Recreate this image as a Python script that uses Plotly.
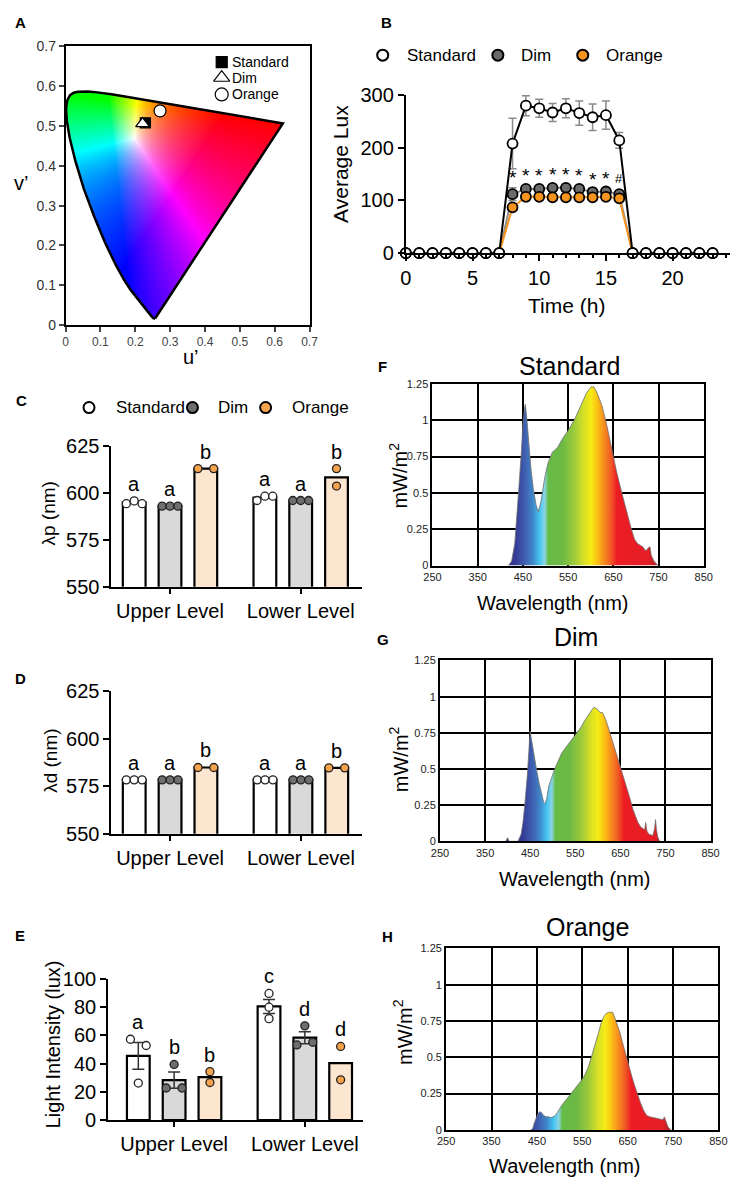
import numpy as np
import zlib, struct, base64
import plotly.graph_objects as go

W, H = 742, 1190
FONT = "Arial, 'Liberation Sans', Helvetica, sans-serif"

# ---------------- DATA ----------------
# Panel A: CIE 1931 spectral locus chromaticities (x, y) and the three light sources (u', v')
locus_nm = [380, 410, 420, 430, 440, 450, 460, 465, 470, 475, 480, 485, 490, 495, 500, 505, 510,
            515, 520, 525, 530, 535, 540, 545, 550, 555, 560, 570, 580, 590, 600, 610, 620, 640, 660, 700]
locus_x = [0.1741, 0.1726, 0.1714, 0.1689, 0.1644, 0.1566, 0.1440, 0.1355, 0.1241, 0.1096, 0.0913,
           0.0687, 0.0454, 0.0235, 0.0082, 0.0039, 0.0139, 0.0389, 0.0743, 0.1142, 0.1547, 0.1929,
           0.2296, 0.2658, 0.3016, 0.3373, 0.3731, 0.4441, 0.5125, 0.5752, 0.6270, 0.6658, 0.6915,
           0.7190, 0.7300, 0.7347]
locus_y = [0.0050, 0.0048, 0.0051, 0.0069, 0.0109, 0.0177, 0.0297, 0.0399, 0.0578, 0.0868, 0.1327,
           0.2007, 0.2950, 0.4127, 0.5384, 0.6548, 0.7502, 0.8120, 0.8338, 0.8262, 0.8059, 0.7816,
           0.7543, 0.7243, 0.6923, 0.6589, 0.6245, 0.5547, 0.4866, 0.4242, 0.3725, 0.3340, 0.3083,
           0.2809, 0.2700, 0.2653]
src_names = ["Standard", "Dim", "Orange"]
src_u = [0.229, 0.221, 0.271]
src_v = [0.508, 0.506, 0.538]

# Panel B: hourly average lux
hours = list(range(24))
std_lux = [0] * 8 + [208, 280, 275, 267, 275, 266, 258, 262, 214] + [0] * 7
std_err = [0] * 8 + [48, 19, 17, 17, 18, 23, 25, 27, 15] + [0] * 7
dim_lux = [0] * 8 + [112, 122, 122, 124, 124, 122, 116, 117, 112] + [0] * 7
dim_err = [0] * 8 + [12, 5, 5, 5, 5, 5, 4, 4, 4] + [0] * 7
org_lux = [0] * 8 + [87, 107, 107, 106, 106, 106, 106, 107, 104] + [0] * 7
org_err = [0] * 8 + [4, 3, 3, 3, 3, 3, 3, 3, 3] + [0] * 7
sig_hours = [8, 9, 10, 11, 12, 13, 14, 15, 16]
sig_marks = ["*", "*", "*", "*", "*", "*", "*", "*", "#"]

levels = ["Upper Level", "Lower Level"]
groups = ["Standard", "Dim", "Orange"]

# Panel C: peak wavelength (nm)
c_bar = {"Standard": [595.0, 597.5], "Dim": [593.0, 596.0], "Orange": [613.0, 608.3]}
c_pts = {"Standard": [[594.3, 595.8, 594.3], [596.0, 598.3, 598.3]],
         "Dim": [[593.0, 593.0, 593.0], [596.0, 596.0, 596.0]],
         "Orange": [[613.0, 613.0], [613.0, 603.7]]}
c_letters = {"Standard": ["a", "a"], "Dim": ["a", "a"], "Orange": ["b", "b"]}

# Panel D: dominant wavelength (nm)
d_bar = {"Standard": [578.3, 578.3], "Dim": [578.3, 578.3], "Orange": [584.8, 584.6]}
d_pts = {"Standard": [[578.3, 578.3, 578.3], [578.3, 578.3, 578.3]],
         "Dim": [[578.3, 578.3, 578.3], [578.3, 578.3, 578.3]],
         "Orange": [[584.8, 584.8], [584.6, 584.6]]}
d_letters = {"Standard": ["a", "a"], "Dim": ["a", "a"], "Orange": ["b", "b"]}

# Panel E: light intensity (lux)
e_bar = {"Standard": [45.4, 80.4], "Dim": [28.3, 58.3], "Orange": [30.4, 40.3]}
e_err = {"Standard": [9.5, 5.0], "Dim": [5.8, 4.2], "Orange": [0, 0]}
e_pts = {"Standard": [[57.2, 26.2, 52.8], [89.6, 79.9, 71.8]],
         "Dim": [[22.7, 39.4, 22.7], [53.2, 66.7, 55.1]],
         "Orange": [[34.3, 26.6], [52.1, 28.5]]}
e_letters = {"Standard": ["a", "c"], "Dim": ["b", "d"], "Orange": ["b", "d"]}

# Panels F-H: spectra (wavelength nm, mW/m2)
spec_std_nm = [418, 425, 432, 437, 441, 447, 450, 454, 455.5, 459, 463, 468, 473, 479, 484, 490, 498,
               505, 515, 526, 537, 550, 565, 580, 591, 601, 607, 614, 625, 636, 646, 657, 668, 679,
               690, 697, 704, 715, 722, 727, 731, 734, 740, 749]
spec_std_val = [0, 0.03, 0.15, 0.33, 0.53, 0.80, 0.98, 1.09, 1.11, 1.00, 0.82, 0.66, 0.53, 0.42, 0.37,
                0.44, 0.60, 0.70, 0.78, 0.81, 0.87, 0.93, 1.01, 1.11, 1.19, 1.23, 1.23, 1.19, 1.10,
                0.96, 0.81, 0.65, 0.51, 0.37, 0.25, 0.18, 0.15, 0.13, 0.10, 0.12, 0.13, 0.07, 0.03, 0]
spec_dim_nm = [396, 400, 403, 423, 430, 434, 438, 441, 444, 447, 450, 452, 455, 459, 465, 470, 475, 480,
               483, 487, 491, 496, 502, 507, 513, 520, 527, 534, 541, 548, 556, 563, 570, 578, 585,
               591, 596, 600, 605, 610, 615, 621, 628, 636, 643, 650, 657, 664, 671, 678, 684, 689,
               695, 700, 704, 706, 709, 713, 717, 722, 726, 728, 730, 733, 737]
spec_dim_val = [0, 0.025, 0, 0, 0.05, 0.13, 0.25, 0.35, 0.47, 0.62, 0.76, 0.72, 0.66, 0.58, 0.48, 0.40,
                0.33, 0.27, 0.26, 0.30, 0.38, 0.43, 0.48, 0.52, 0.56, 0.61, 0.64, 0.67, 0.70, 0.73,
                0.76, 0.79, 0.83, 0.87, 0.90, 0.925, 0.92, 0.91, 0.89, 0.89, 0.86, 0.81, 0.74, 0.65,
                0.58, 0.51, 0.45, 0.38, 0.30, 0.22, 0.17, 0.13, 0.10, 0.09, 0.08, 0.13, 0.07, 0.05,
                0.045, 0.04, 0.09, 0.15, 0.08, 0.03, 0]
spec_org_nm = [437, 441, 444, 448, 452, 456, 460, 465, 470, 476, 481, 486, 491, 495, 500, 505, 510, 515,
               520, 527, 534, 541, 548, 556, 563, 570, 576, 581, 586, 591, 596, 602, 608, 613, 617,
               622, 628, 633, 638, 643, 649, 654, 660, 666, 671, 678, 685, 692, 699, 706, 714, 721,
               728, 731, 734, 739, 745]
spec_org_val = [0, 0.01, 0.045, 0.08, 0.11, 0.125, 0.12, 0.10, 0.09, 0.09, 0.085, 0.09, 0.10, 0.12,
                0.15, 0.17, 0.19, 0.21, 0.23, 0.25, 0.28, 0.31, 0.34, 0.38, 0.43, 0.50, 0.56, 0.61,
                0.67, 0.73, 0.77, 0.80, 0.81, 0.81, 0.81, 0.77, 0.72, 0.67, 0.61, 0.55, 0.48, 0.42,
                0.36, 0.30, 0.25, 0.19, 0.135, 0.10, 0.09, 0.085, 0.08, 0.07, 0.07, 0.09, 0.06, 0.02, 0]

# spectral colour ramp (nm -> colour)
ramp_nm = [400, 430, 450, 466, 481, 492, 500, 530, 555, 575, 592, 605, 618, 635, 648, 715, 735, 760]
ramp_col = ['#2e2d75', '#353c98', '#4060b0', '#3f86c8', '#43c4f0', '#8ad4e6', '#66bb46', '#6cb944',
            '#9bc93c', '#d4df27', '#f6eb16', '#fbc314', '#f7941d', '#f05a24', '#ed1c24', '#e41e25',
            '#b01f24', '#7a1a1a']

# ---------------- STYLE CONSTANTS ----------------
BAR_FILL = {"Standard": "white", "Dim": "#d9d9d9", "Orange": "#fde6d0"}
DOT_FILL = {"Standard": "white", "Dim": "#6e6e6e", "Orange": "#f6a34e"}
LINE_COL = {"Standard": "black", "Dim": "#8c8c8c", "Orange": "#f7941d"}
MK_FILL = {"Standard": "white", "Dim": "#6b6b6b", "Orange": "#f7941d"}
GROUP_STEP = 3.65
BAR_W = 0.635
JIT = 0.22
jitter3 = [-JIT, 0, JIT]
jitter_c = {"Standard": [jitter3, jitter3], "Dim": [jitter3, jitter3], "Orange": [[-JIT, JIT], [0, 0]]}
jitter_d = {"Standard": [jitter3, jitter3], "Dim": [jitter3, jitter3], "Orange": [[-JIT, JIT], [-JIT, JIT]]}
jitter_e = {"Standard": [jitter3, [0, 0, 0]], "Dim": [jitter3, jitter3], "Orange": [[0, 0], [0, 0]]}


def xdom(a, b):
    return [a / W, b / W]


def ydom(top, bottom):
    return [1 - bottom / H, 1 - top / H]


fig = go.Figure()
annotations = []


def ann(text, x, y, size, bold=False, angle=0, xanchor='center', yanchor='middle', color='black'):
    annotations.append(dict(text=("<b>%s</b>" % text) if bold else text, x=x / W, y=1 - y / H,
                            xref='paper', yref='paper', showarrow=False, textangle=angle,
                            xanchor=xanchor, yanchor=yanchor,
                            font=dict(size=size, color=color, family=FONT)))


# ---------------- PANEL A ----------------
lx = np.array(locus_x)
ly = np.array(locus_y)
den = -2 * lx + 12 * ly + 3
loc_u = 4 * lx / den
loc_v = 9 * ly / den

N = 350
cells = (np.arange(N) + 0.5) * 0.7 / N
U, V = np.meshgrid(cells, cells)
d2 = 6 * U - 16 * V + 12
cx = 9 * U / d2
cy = np.maximum(4 * V / d2, 1e-6)
X = cx / cy
Z = (1 - cx - cy) / cy
R = 3.2406 * X - 1.5372 - 0.4986 * Z
G = -0.9689 * X + 1.8758 + 0.0415 * Z
B = 0.0557 * X - 0.2040 + 1.0570 * Z
rgb = np.clip(np.stack([R, G, B], -1), 0, None)
rgb = rgb / (rgb.max(-1, keepdims=True) + 1e-9)
rgb = rgb ** (1 / 1.3)
inside = np.zeros(U.shape, bool)
pu, pv = list(loc_u), list(loc_v)
n = len(pu)
j = n - 1
for i in range(n):
    cond = ((pv[i] > V) != (pv[j] > V)) & (U < (pu[j] - pu[i]) * (V - pv[i]) / (pv[j] - pv[i] + 1e-12) + pu[i])
    inside ^= cond
    j = i
rgba = np.zeros((N, N, 4), np.uint8)
rgba[..., :3] = (rgb * 255).astype(np.uint8)
rgba[..., 3] = np.where(inside, 255, 0)
img = rgba[::-1]
raw = b''.join(b'\x00' + img[r].tobytes() for r in range(N))


def chunk(t, d):
    return struct.pack('>I', len(d)) + t + d + struct.pack('>I', zlib.crc32(t + d) & 0xffffffff)


png = (b'\x89PNG\r\n\x1a\n' + chunk(b'IHDR', struct.pack('>IIBBBBB', N, N, 8, 6, 0, 0, 0)) +
       chunk(b'IDAT', zlib.compress(raw, 9)) + chunk(b'IEND', b''))
img_uri = 'data:image/png;base64,' + base64.b64encode(png).decode()

fig.add_trace(go.Scatter(x=list(loc_u) + [loc_u[0]], y=list(loc_v) + [loc_v[0]], mode='lines',
                         line=dict(color='black', width=2.5), xaxis='x', yaxis='y', hoverinfo='skip'))
a_sym = {"Standard": ("square", "black", 10), "Dim": ("triangle-up", "white", 12),
         "Orange": ("circle", "white", 12)}
for k, nm in enumerate(src_names):
    s, c, sz = a_sym[nm]
    fig.add_trace(go.Scatter(x=[src_u[k]], y=[src_v[k]], mode='markers', xaxis='x', yaxis='y',
                             marker=dict(symbol=s, color=c, size=sz, line=dict(color='black', width=1.3))))

# ---------------- PANEL B ----------------
b_series = [("Dim", dim_lux, dim_err), ("Orange", org_lux, org_err), ("Standard", std_lux, std_err)]
for nm, vals, errs in b_series:
    fig.add_trace(go.Scatter(
        x=hours, y=vals, mode='lines+markers', xaxis='x2', yaxis='y2', cliponaxis=False,
        line=dict(color=LINE_COL[nm], width=2),
        marker=dict(size=10, color=MK_FILL[nm], line=dict(color='black', width=1.8)),
        error_y=dict(type='data', array=errs, color='#8a8a8a', thickness=1.5, width=4)))
for h, m in zip(sig_hours, sig_marks):
    annotations.append(dict(text=m, x=h, y=dim_lux[h] + dim_err[h], xref='x2', yref='y2', showarrow=False,
                            yshift=-2 if m == "*" else 4, yanchor='bottom',
                            font=dict(size=19 if m == "*" else 13, family=FONT, color='black')))


# ---------------- PANELS C, D, E ----------------
def bar_panel(xa, ya, bars, pts, jit, letters, errs=None):
    for gi, g in enumerate(groups):
        xs = [li * GROUP_STEP + gi for li in range(2)]
        eb = dict(type='data', array=errs[g], color='#333', thickness=1.5, width=6,
                  visible=True) if errs is not None and any(errs[g]) else None
        fig.add_trace(go.Bar(x=xs, y=bars[g], width=BAR_W, xaxis=xa, yaxis=ya,
                             marker=dict(color=BAR_FILL[g], line=dict(color='black', width=2.2)),
                             error_y=eb))
        for li in range(2):
            p = pts[g][li]
            fig.add_trace(go.Scatter(x=[xs[li] + o for o in jit[g][li]], y=p, mode='markers',
                                     xaxis=xa, yaxis=ya, cliponaxis=False,
                                     marker=dict(size=8, color=DOT_FILL[g],
                                                 line=dict(color='#222', width=1.3))))
            top = max(p + [bars[g][li] + (errs[g][li] if errs is not None else 0)])
            annotations.append(dict(text=letters[g][li], x=xs[li], y=top, xref=xa, yref=ya,
                                    showarrow=False, yshift=17, yanchor='middle',
                                    font=dict(size=20, family=FONT, color='black')))


bar_panel('x3', 'y3', c_bar, c_pts, jitter_c, c_letters)
bar_panel('x4', 'y4', d_bar, d_pts, jitter_d, d_letters)
bar_panel('x5', 'y5', e_bar, e_pts, jitter_e, e_letters, e_err)

# ---------------- PANELS F, G, H ----------------
cscale = [[(nm - ramp_nm[0]) / (ramp_nm[-1] - ramp_nm[0]), c] for nm, c in zip(ramp_nm, ramp_col)]
for xa, ya, xs, ys in [('x6', 'y6', spec_std_nm, spec_std_val), ('x7', 'y7', spec_dim_nm, spec_dim_val),
                       ('x8', 'y8', spec_org_nm, spec_org_val)]:
    fig.add_trace(go.Scatter(x=xs, y=ys, mode='lines', fill='tozeroy', xaxis=xa, yaxis=ya,
                             line=dict(color='#707070', width=0.8),
                             fillgradient=dict(type='horizontal', colorscale=cscale,
                                               start=ramp_nm[0], stop=ramp_nm[-1])))

# ---------------- OVERLAY (legend symbols) ----------------
leg_pts = [  # (x, y, symbol, fill, size)
    (218, 52, "square", "black", 11), (218, 68, "triangle-up-open", "black", 14), (218, 85, "circle-open", "black", 13),
]
for x, y, s, c, sz in leg_pts:
    fig.add_trace(go.Scatter(x=[x], y=[y], mode='markers', xaxis='x9', yaxis='y9',
                             marker=dict(symbol=s, color=c, size=sz, line=dict(color='black', width=1.2))))
for (lx0, ly0), nm in zip([(383, 45), (501, 45), (588, 45)], groups):
    fig.add_trace(go.Scatter(x=[lx0], y=[ly0], mode='markers', xaxis='x9', yaxis='y9',
                             marker=dict(size=11, color=MK_FILL[nm], line=dict(color='black', width=2))))
for (lx0, ly0), nm in zip([(82, 404), (188, 404), (263, 404)], groups):
    fig.add_trace(go.Scatter(x=[lx0], y=[ly0], mode='markers', xaxis='x9', yaxis='y9',
                             marker=dict(size=11, color=DOT_FILL[nm],
                                         line=dict(color='black', width=2))))

# ---------------- TEXT ----------------
for t, x, y in [("A", 12, 12), ("B", 387, 12), ("C", 13, 397), ("D", 12, 680), ("E", 11, 942),
                ("F", 383, 362), ("G", 383, 640), ("H", 388, 943)]:
    ann(t, x, y, 15, bold=True)
for t, y in zip(src_names, [52, 68, 85]):
    ann(t, 227, y, 14, xanchor='left')
for t, x in zip(groups, [406, 523, 610]):
    ann(t, x, 45, 17, xanchor='left')
for t, x in zip(groups, [108, 212, 288]):
    ann(t, x, 404, 17, xanchor='left')
ann("v’", 12, 175, 20)
ann("u’", 187, 353, 20)
ann("Average Lux", 339, 156, 21, angle=-90)
ann("Time (h)", 571, 300, 21)
ann("λp (nm)", 41, 512, 19, angle=-90)
ann("λd (nm)", 43, 764, 19, angle=-90)
ann("Light Intensity (lux)", 45, 1053, 20, angle=-90)
for t, x, y in [("Standard", 574, 362), ("Dim", 581, 638), ("Orange", 593, 933)]:
    ann(t, x, y, 25)
for x, y in [(399, 473), (400, 762), (404, 1040)]:
    ann("mW/m<sup>2</sup>", x, y, 20, angle=-90)
for x, y in [(558, 603), (580, 884), (570, 1177)]:
    ann("Wavelength (nm)", x, y, 20)

# ---------------- AXES ----------------
base = dict(showline=True, linecolor='black', linewidth=2, ticks='outside', tickcolor='black',
            tickwidth=2, ticklen=6, zeroline=False, showgrid=False,
            tickfont=dict(size=20, color='black', family=FONT))
a_ticks = [0, 0.1, 0.2, 0.3, 0.4, 0.5, 0.6, 0.7]
a_text = ["0", "0.1", "0.2", "0.3", "0.4", "0.5", "0.6", "0.7"]
layout_axes = dict(
    xaxis=dict(domain=xdom(58, 308), range=[0, 0.7], anchor='y', showline=True, mirror=True,
               linecolor='black', linewidth=1.5, ticks='outside', ticklen=5, tickwidth=1.5,
               tickvals=a_ticks, ticktext=a_text, zeroline=False, showgrid=False,
               tickfont=dict(size=12, color='#444', family=FONT)),
    yaxis=dict(domain=ydom(36, 320), range=[0, 0.7], anchor='x', showline=True, mirror=True,
               linecolor='black', linewidth=1.5, ticks='outside', ticklen=5, tickwidth=1.5,
               tickvals=a_ticks, ticktext=a_text, zeroline=False, showgrid=False,
               tickfont=dict(size=14, color='#333', family=FONT)),
    xaxis2=dict(base, domain=xdom(406.7, 738.9), range=[0, 24.3], anchor='y2', tickvals=[0, 5, 10, 15, 20],
                minor=dict(dtick=1, tick0=0, ticks='outside', ticklen=3, tickwidth=1.5, tickcolor='black')),
    yaxis2=dict(base, domain=ydom(85.7, 246.7), range=[0, 300], anchor='x2', tickvals=[0, 100, 200, 300]),
    xaxis3=dict(base, domain=xdom(105, 361.7), range=[-0.635, 6.36], anchor='y3',
                tickvals=[1, 1 + GROUP_STEP], ticktext=levels, ticklen=5),
    yaxis3=dict(base, domain=ydom(443.3, 586.7), range=[550, 625], anchor='x3', tickvals=[550, 575, 600, 625]),
    xaxis4=dict(base, domain=xdom(105, 362), range=[-0.635, 6.36], anchor='y4',
                tickvals=[1, 1 + GROUP_STEP], ticktext=levels, ticklen=5),
    yaxis4=dict(base, domain=ydom(692.7, 838.3), range=[550, 625], anchor='x4', tickvals=[550, 575, 600, 625]),
    xaxis5=dict(base, domain=xdom(101.7, 363), range=[-0.84, 6.28], anchor='y5',
                tickvals=[1, 1 + GROUP_STEP], ticktext=levels, ticklen=5),
    yaxis5=dict(base, domain=ydom(986, 1130), range=[0, 100], anchor='x5', tickvals=[0, 20, 40, 60, 80, 100]),
    xaxis9=dict(domain=[0, 1], range=[0, W], visible=False, anchor='y9', fixedrange=True),
    yaxis9=dict(domain=[0, 1], range=[H, 0], visible=False, anchor='x9', fixedrange=True),
)
spec = dict(showline=True, mirror=True, linecolor='black', linewidth=2, showgrid=True, gridcolor='black',
            gridwidth=2, ticks='', zeroline=False, tickfont=dict(size=11, color='#222', family=FONT))
for k, (xd, yd) in zip([6, 7, 8], [((434, 712), (380, 565)), ((441.7, 719), (661.7, 846)),
                                  ((448, 727), (955, 1140))]):
    layout_axes['xaxis%d' % k] = dict(spec, domain=xdom(*xd), range=[250, 850], tick0=250, dtick=100,
                                      anchor='y%d' % k)
    layout_axes['yaxis%d' % k] = dict(spec, domain=ydom(*yd), range=[0, 1.25], tick0=0, dtick=0.25,
                                      anchor='x%d' % k)

fig.update_layout(
    width=W, height=H, margin=dict(l=0, r=0, t=0, b=0), showlegend=False, barmode='overlay',
    paper_bgcolor='white', plot_bgcolor='rgba(0,0,0,0)', font=dict(family=FONT, color='black'),
    annotations=annotations,
    images=[dict(source=img_uri, xref='x', yref='y', x=0, y=0.7, sizex=0.7, sizey=0.7,
                 xanchor='left', yanchor='top', sizing='stretch', layer='below')],
    **layout_axes)

fig.write_html("out.html")
